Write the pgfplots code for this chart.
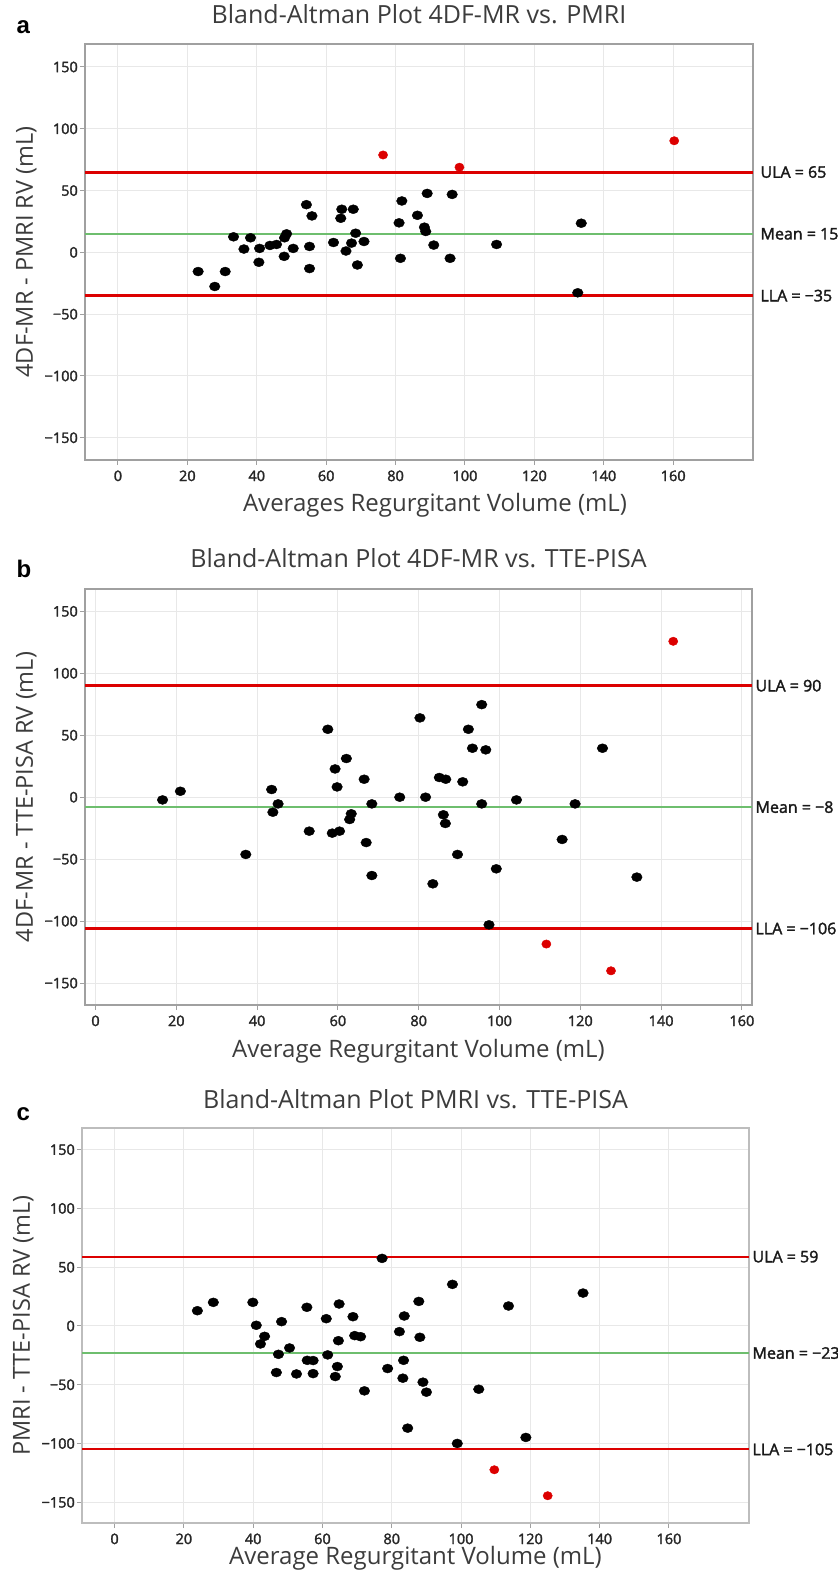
\documentclass[border=0pt]{standalone}
\usepackage{fontspec}
\setmainfont{Open Sans}
\newfontfamily\labfont{Liberation Sans}
\newfontfamily\tickfont{Open Sans}[FakeBold=2]
\usepackage{pgfplots}
\pgfplotsset{compat=1.18}

\definecolor{bared}{RGB}{220,0,0}
\definecolor{bagreen}{RGB}{110,190,110}
\definecolor{gridgray}{RGB}{232,232,232}
\definecolor{axgray}{RGB}{160,160,160}
\definecolor{txtgray}{RGB}{60,60,60}

\tikzset{rl/.style={anchor=west, font=\tickfont\fontsize{16}{18}\selectfont, text=black!90}}

\pgfplotsset{
  ba/.style={
    scale only axis,
    clip=false,
    xtick={0,20,40,60,80,100,120,140,160},
    xticklabels={0,20,40,60,80,100,120,140,160},
    ytick={-150,-100,-50,0,50,100,150},
    yticklabels={−150,−100,−50,0,50,100,150},
    grid=major,
    grid style={draw=gridgray, line width=1pt},
    tick pos=left,
    tick align=outside,
    major tick length=5pt,
    tick style={draw=axgray, line width=1pt},
    axis line style={draw=axgray, line width=1.2pt},
    ticklabel style={font=\tickfont\fontsize{14.5}{16}\selectfont, text=black!85},
    yticklabel style={inner xsep=2pt},
    xticklabel style={yshift=-2pt},
    title style={anchor=center, font=\fontsize{25}{29}\selectfont, text=txtgray},
    xlabel style={anchor=center, font=\fontsize{24}{28}\selectfont, text=txtgray},
    ylabel style={anchor=center, font=\fontsize{23.5}{27}\selectfont, text=txtgray},
  },
  blk/.style={only marks, mark=*, mark size=4.5pt, mark options={xscale=1.18, draw=black, fill=black}},
  rdot/.style={only marks, mark=*, mark size=4.2pt, mark options={xscale=1.1, draw=bared, fill=bared}},
  lim/.style={no marks, draw=bared, line width=#1},
  mn/.style={no marks, draw=bagreen, line width=2pt},
}

\begin{document}
\begin{tikzpicture}
\path[use as bounding box] (0pt,0pt) rectangle (838pt,-1572pt);

\node[font=\labfont\bfseries\fontsize{24}{28}\selectfont, anchor=base west] at (13pt,-33pt) {a};
\node[font=\labfont\bfseries\fontsize{24}{28}\selectfont, anchor=base west] at (13pt,-577pt) {b};
\node[font=\labfont\bfseries\fontsize{24}{28}\selectfont, anchor=base west] at (13pt,-1120pt) {c};

% ---------- a ----------
\begin{axis}[ba,
  at={(85pt,-460pt)}, anchor=south west,
  width=668pt, height=416pt,
  xmin=-9.5, xmax=183, ymin=-168, ymax=168.6,
  title={Bland-Altman Plot 4DF-MR vs. PMRI},
  title style={at={(axis description cs:0.5,1.058)}},
  xlabel={Averages Regurgitant Volume (mL)},
  xlabel style={at={(axis description cs:0.524,-0.108)}},
  ylabel={4DF-MR - PMRI RV (mL)},
  ylabel style={at={(axis description cs:-0.088,0.5)}},
]
\addplot[lim=3pt] coordinates {(-9.5,65) (183,65)};
\addplot[lim=3pt] coordinates {(-9.5,-35) (183,-35)};
\addplot[mn] coordinates {(-9.5,15) (183,15)};
\addplot[blk] table {
23.1 -15.5
27.9 -27.6
30.9 -15.5
33.3 12.6
36.3 2.7
38.2 11.8
40.8 3.2
40.6 -8.0
43.8 5.6
45.7 6.4
48.0 11.8
48.6 15.0
47.9 -3.2
50.5 3.2
54.3 38.6
55.9 29.5
55.2 4.8
55.2 -13.1
62.1 8.0
64.5 34.9
64.2 27.6
67.8 34.9
68.5 15.5
67.3 7.5
65.7 1.1
70.9 8.8
69.0 -10.2
81.0 23.9
81.8 41.6
81.4 -4.8
86.3 30.0
88.3 20.4
88.7 16.9
89.1 47.7
91.0 5.9
96.3 46.9
95.7 -4.8
109.1 6.4
133.5 23.6
132.5 -32.7
};
\addplot[rdot] table {
76.4 78.8
98.4 68.9
160.3 90.3
};
\node[rl] at (axis cs:183,65) {\hspace{4pt}ULA = 65};
\node[rl] at (axis cs:183,15) {\hspace{4pt}Mean = 15};
\node[rl] at (axis cs:183,-35) {\hspace{4pt}LLA = −35};
\end{axis}

% ---------- b ----------
\begin{axis}[ba,
  at={(85pt,-1005pt)}, anchor=south west,
  width=667pt, height=416pt,
  xmin=-2.6, xmax=162.5, ymin=-167.7, ymax=168,
  title={Bland-Altman Plot 4DF-MR vs. TTE-PISA},
  title style={at={(axis description cs:0.5,1.06)}},
  xlabel={Average Regurgitant Volume (mL)},
  xlabel style={at={(axis description cs:0.5,-0.11)}},
  ylabel={4DF-MR - TTE-PISA RV (mL)},
  ylabel style={at={(axis description cs:-0.088,0.5)}},
]
\addplot[lim=3pt] coordinates {(-2.6,90) (162.5,90)};
\addplot[lim=3pt] coordinates {(-2.6,-106) (162.5,-106)};
\addplot[mn] coordinates {(-2.6,-8) (162.5,-8)};
\addplot[blk] table {
16.6 -2.2
21.0 4.8
37.2 -46.2
43.6 6.2
43.9 -12.1
45.2 -5.4
52.9 -27.4
57.5 54.8
58.6 -29.0
60.4 -27.4
59.3 22.8
59.8 8.3
62.1 31.2
63.3 -13.4
62.9 -18.0
66.5 14.5
67.0 -36.6
68.4 -5.4
68.4 -63.2
75.3 0
80.3 64.0
81.7 0
83.5 -69.9
85.1 15.9
86.7 14.5
86.1 -14.2
86.6 -21.2
90.9 12.4
89.6 -46.2
92.3 54.8
93.3 39.5
95.6 74.7
95.6 -5.4
96.6 38.2
97.4 -103.0
99.2 -57.8
104.2 -2.2
118.7 -5.4
115.5 -34.1
125.5 39.5
134.0 -64.5
};
\addplot[rdot] table {
143.0 125.8
111.6 -118.5
127.6 -140.1
};
\node[rl] at (axis cs:162.5,90) {ULA = 90};
\node[rl] at (axis cs:162.5,-8) {Mean = −8};
\node[rl] at (axis cs:162.5,-106) {LLA = −106};
\end{axis}

% ---------- c ----------
\begin{axis}[ba,
  at={(82pt,-1523pt)}, anchor=south west,
  width=667pt, height=395pt,
  xmin=-9.4, xmax=183.1, ymin=-167.6, ymax=168.4,
  title={Bland-Altman Plot PMRI vs. TTE-PISA},
  title style={at={(axis description cs:0.5,1.058)}},
  xlabel={Average Regurgitant Volume (mL)},
  xlabel style={at={(axis description cs:0.5,-0.088)}},
  ylabel={PMRI - TTE-PISA RV (mL)},
  ylabel style={at={(axis description cs:-0.088,0.5)}},
  axis line style={draw=axgray!70, line width=1.2pt},
]
\addplot[lim=2pt] coordinates {(-9.4,59) (183.1,59)};
\addplot[lim=2pt] coordinates {(-9.4,-105) (183.1,-105)};
\addplot[mn] coordinates {(-9.4,-23) (183.1,-23)};
\addplot[blk] table {
23.9 13.0
28.5 20.1
39.9 20.1
40.9 0.6
43.3 -8.8
42.1 -15.3
48.2 3.7
47.3 -24.1
46.7 -39.6
50.5 -18.7
52.5 -40.8
55.5 15.9
55.6 -29.2
57.3 -29.4
57.3 -40.5
61.1 6.2
61.5 -24.6
64.8 18.7
64.6 -12.5
64.3 -34.5
63.7 -43.0
68.8 7.9
69.3 -8.2
71.0 -9.1
72.1 -55.2
77.2 57.5
78.8 -36.2
82.2 -4.8
83.6 8.5
83.4 -29.2
83.2 -44.4
84.6 -86.9
87.8 20.9
88.1 -9.6
89.0 -47.8
90.0 -56.3
97.5 35.4
98.9 -99.9
105.1 -53.8
135.2 28.0
113.7 17.0
118.7 -94.8
};
\addplot[rdot] table {
109.6 -122.3
125.0 -144.4
};
\node[rl] at (axis cs:183.1,59) {ULA = 59};
\node[rl] at (axis cs:183.1,-23) {Mean = −23};
\node[rl] at (axis cs:183.1,-105) {LLA = −105};
\end{axis}
\end{tikzpicture}
\end{document}
